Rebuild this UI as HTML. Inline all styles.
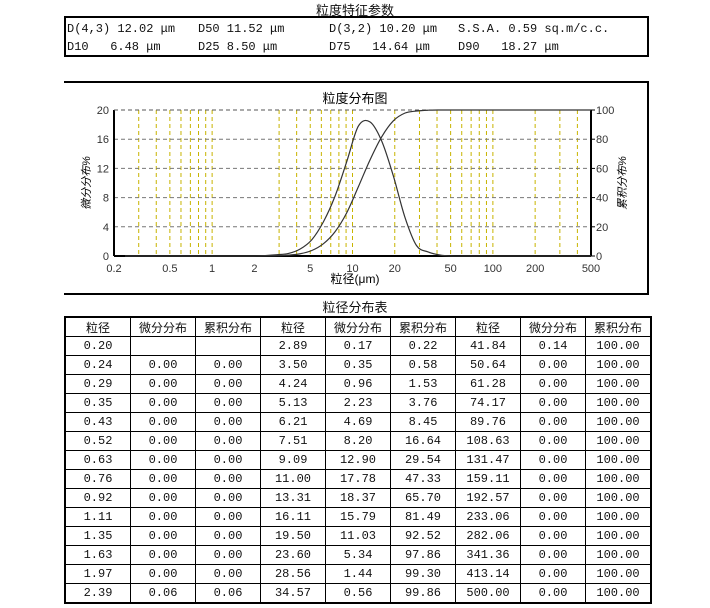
<!DOCTYPE html>
<html><head><meta charset="utf-8">
<style>
body{margin:0;background:#fff;width:710px;height:608px;position:relative;overflow:hidden;font-family:"Liberation Mono","Noto Sans CJK SC",monospace;color:#111}
.t{position:absolute;font-size:12px;white-space:nowrap}
.title{position:absolute;font-family:"Liberation Sans","Noto Sans CJK SC",sans-serif;font-size:13px;transform:translateX(-50%)}
#params{position:absolute;left:64px;top:16px;width:581px;height:37px;border:2px solid #000}
#chartbox{position:absolute;left:64px;top:81px;width:583px;height:210px;border-top:2px solid #000;border-right:2px solid #000;border-bottom:2px solid #000}
table{position:absolute;left:64px;top:316px;border-collapse:collapse;border:2px solid #000;font-size:12px;table-layout:fixed}
td,th{border:1px solid #000;height:18px;padding:0;text-align:center;width:64px;font-weight:normal}
th{font-family:"Liberation Sans","Noto Sans CJK SC",sans-serif;font-size:12px}
</style></head><body>
<div class="title" style="left:355px;top:0px">粒度特征参数</div>
<div id="params">
<span class="t" style="left:1px;top:4px">D(4,3) 12.02 μm</span>
<span class="t" style="left:132px;top:4px">D50 11.52 μm</span>
<span class="t" style="left:263px;top:4px">D(3,2) 10.20 μm</span>
<span class="t" style="left:392px;top:4px">S.S.A. 0.59 sq.m/c.c.</span>
<span class="t" style="left:1px;top:22px">D10&nbsp;&nbsp;&nbsp;6.48 μm</span>
<span class="t" style="left:132px;top:22px">D25 8.50 μm</span>
<span class="t" style="left:263px;top:22px">D75&nbsp;&nbsp;&nbsp;14.64 μm</span>
<span class="t" style="left:392px;top:22px">D90&nbsp;&nbsp;&nbsp;18.27 μm</span>
</div>
<div id="chartbox"></div>
<svg id="chart" width="710" height="300" style="position:absolute;left:0;top:0" font-family="Liberation Sans, Noto Sans CJK SC, sans-serif"></svg>
<div class="title" style="left:355px;top:297px">粒径分布表</div>
<table id="tbl"></table>
<script>
const sizes=[0.20,0.24,0.29,0.35,0.43,0.52,0.63,0.76,0.92,1.11,1.35,1.63,1.97,2.39,2.89,3.50,4.24,5.13,6.21,7.51,9.09,11.00,13.31,16.11,19.50,23.60,28.56,34.57,41.84,50.64,61.28,74.17,89.76,108.63,131.47,159.11,192.57,233.06,282.06,341.36,413.14,500.00];
const diff=[null,0,0,0,0,0,0,0,0,0,0,0,0,0.06,0.17,0.35,0.96,2.23,4.69,8.20,12.90,17.78,18.37,15.79,11.03,5.34,1.44,0.56,0.14,0,0,0,0,0,0,0,0,0,0,0,0,0];
const cum=[null,0,0,0,0,0,0,0,0,0,0,0,0,0.06,0.22,0.58,1.53,3.76,8.45,16.64,29.54,47.33,65.70,81.49,92.52,97.86,99.30,99.86,100,100,100,100,100,100,100,100,100,100,100,100,100,100];
const xTicks=[0.2,0.5,1,2,5,10,20,50,100,200,500];
const xGrid=[0.3,0.4,0.5,0.6,0.7,0.8,0.9,1,3,4,5,6,7,8,9,10,20,30,40,50,60,70,80,90,100,200,300,400];
const yLeftTicks=[0,4,8,12,16,20];
const yRightTicks=[0,20,40,60,80,100];
const fmt=v=>v===null?'':v.toFixed(2);
const tbl=document.getElementById('tbl');
let h='<tr>';for(let k=0;k<3;k++)h+='<th>粒径</th><th>微分分布</th><th>累积分布</th>';h+='</tr>';
for(let r=0;r<14;r++){h+='<tr>';for(let c=0;c<3;c++){const i=c*14+r;h+='<td>'+fmt(sizes[i])+'</td><td>'+fmt(diff[i])+'</td><td>'+fmt(cum[i])+'</td>';}h+='</tr>';}
tbl.innerHTML=h;
tbl.querySelectorAll('tr').forEach((tr,i)=>{});

const X0=114,X1=591,Y0=256,Y1=110;
const lx=v=>X0+(Math.log10(v)-Math.log10(0.2))/(Math.log10(500)-Math.log10(0.2))*(X1-X0);
const ly=v=>Y0-v/20*(Y0-Y1);
const ry=v=>Y0-v/100*(Y0-Y1);
const svg=document.getElementById('chart');
let s='';
s+='<text x="355" y="103" font-size="13" text-anchor="middle">粒度分布图</text>';
xGrid.forEach(g=>{s+='<line x1="'+lx(g)+'" x2="'+lx(g)+'" y1="'+Y1+'" y2="'+Y0+'" stroke="#c8b400" stroke-dasharray="4,3" stroke-width="1"/>';});
yLeftTicks.forEach(t=>{if(t>0)s+='<line x1="'+X0+'" x2="'+X1+'" y1="'+ly(t)+'" y2="'+ly(t)+'" stroke="#777" stroke-dasharray="4,3"/>';
 s+='<text x="'+(X0-5)+'" y="'+(ly(t)+4)+'" font-size="11" text-anchor="end" fill="#333">'+t+'</text>';});
yRightTicks.forEach(t=>{s+='<line x1="'+X1+'" x2="'+(X1+4)+'" y1="'+ry(t)+'" y2="'+ry(t)+'" stroke="#000"/>';
 s+='<text x="'+(X1+5)+'" y="'+(ry(t)+4)+'" font-size="11" fill="#333">'+t+'</text>';});
xTicks.forEach(t=>{s+='<text x="'+lx(t)+'" y="272" font-size="11" text-anchor="middle" fill="#333">'+t+'</text>';});
s+='<line x1="'+X0+'" x2="'+X0+'" y1="'+Y1+'" y2="'+Y0+'" stroke="#000" stroke-width="2"/>';
s+='<line x1="'+X1+'" x2="'+X1+'" y1="'+Y1+'" y2="'+Y0+'" stroke="#000" stroke-width="2"/>';
s+='<line x1="'+X0+'" x2="'+X1+'" y1="'+Y0+'" y2="'+Y0+'" stroke="#000" stroke-width="2"/>';
s+='<line x1="'+X0+'" x2="'+X1+'" y1="'+Y1+'" y2="'+Y1+'" stroke="#555" stroke-dasharray="4,3"/>';
function smooth(pts){let d='M'+pts[0][0]+','+pts[0][1];for(let i=0;i<pts.length-1;i++){const p0=pts[i-1]||pts[i],p1=pts[i],p2=pts[i+1],p3=pts[i+2]||p2;
 const c1x=p1[0]+(p2[0]-p0[0])/6,c1y=p1[1]+(p2[1]-p0[1])/6,c2x=p2[0]-(p3[0]-p1[0])/6,c2y=p2[1]-(p3[1]-p1[1])/6;
 d+=' C'+c1x+','+c1y+' '+c2x+','+c2y+' '+p2[0]+','+p2[1];}return d;}
const dp=[],cp=[];
for(let i=0;i<sizes.length;i++){if(diff[i]!==null)dp.push([lx(sizes[i]),ly(diff[i])]);if(cum[i]!==null)cp.push([lx(sizes[i]),ry(cum[i])]);}
s+='<path d="'+smooth(dp)+'" fill="none" stroke="#333" stroke-width="1.2"/>';
s+='<path d="'+smooth(cp)+'" fill="none" stroke="#333" stroke-width="1.2"/>';
s+='<text x="355" y="283" font-size="12" text-anchor="middle">粒径(μm)</text>';
s+='<text transform="translate(90,183) rotate(-90)" font-size="11" text-anchor="middle" font-style="italic">微分分布%</text>';
s+='<text transform="translate(626,183) rotate(-90)" font-size="11" text-anchor="middle" font-style="italic">累积分布%</text>';
svg.innerHTML=s;
</script>
</body></html>
